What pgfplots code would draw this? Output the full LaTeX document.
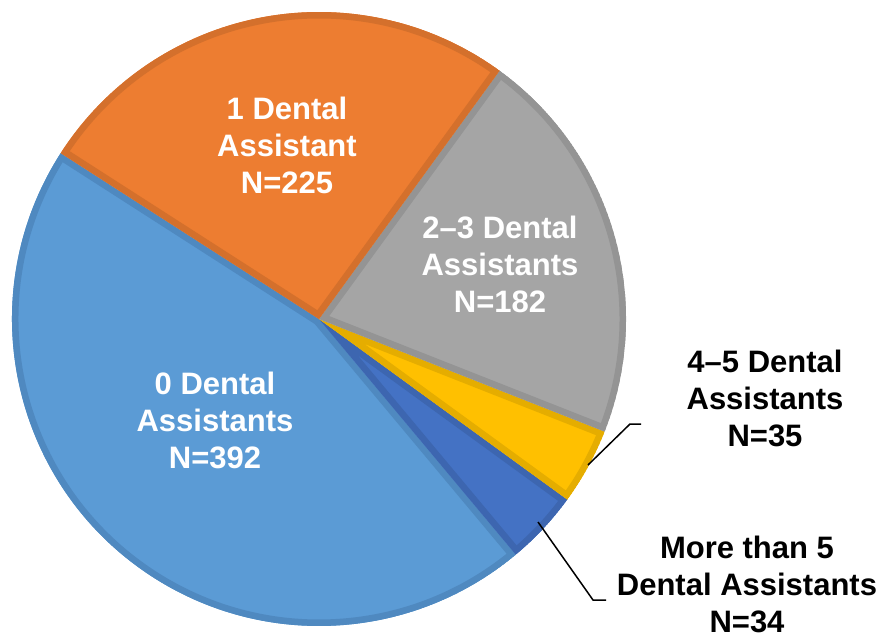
\documentclass[border=0pt]{standalone}
\usepackage{pgfplots}
\pgfplotsset{compat=1.18}
\usepackage{pgfplotstable}
\usepackage{fontspec}
\setmainfont{Liberation Sans}
\definecolor{cBlue}{HTML}{5B9BD5}\definecolor{bBlue}{HTML}{4F89C0}
\definecolor{cOrange}{HTML}{ED7D31}\definecolor{bOrange}{HTML}{D4702C}
\definecolor{cGray}{HTML}{A5A5A5}\definecolor{bGray}{HTML}{949494}
\definecolor{cYellow}{HTML}{FFC000}\definecolor{bYellow}{HTML}{E5AD00}
\definecolor{cDBlue}{HTML}{4472C4}\definecolor{bDBlue}{HTML}{3D66B0}
\pgfplotstableread{
group value
zero 392
morefive 34
fourfive 35
twothree 182
one 225
}\piedata
\newcommand\sector[4]{%
  \begin{scope}
    \clip (axis cs:319,319) -- ++(#1:307pt) arc[start angle=#1,end angle=#2,radius=307pt] -- cycle;
    \fill[#3] (axis cs:319,319) -- ++(#1:307pt) arc[start angle=#1,end angle=#2,radius=307pt] -- cycle;
    \draw[#4,line width=13pt,line join=miter] (axis cs:319,319) -- ++(#1:307pt) arc[start angle=#1,end angle=#2,radius=307pt] -- cycle;
  \end{scope}}
\begin{document}%
\begin{tikzpicture}
\pgfplotstablegetelem{0}{value}\of\piedata\let\vA\pgfplotsretval
\pgfplotstablegetelem{1}{value}\of\piedata\let\vB\pgfplotsretval
\pgfplotstablegetelem{2}{value}\of\piedata\let\vC\pgfplotsretval
\pgfplotstablegetelem{3}{value}\of\piedata\let\vD\pgfplotsretval
\pgfplotstablegetelem{4}{value}\of\piedata\let\vE\pgfplotsretval
\pgfmathsetmacro\tot{\vA+\vB+\vC+\vD+\vE}
\pgfmathsetmacro\aA{147.3}
\pgfmathsetmacro\aB{\aA+360*(\vA/\tot)}
\pgfmathsetmacro\aC{\aB+360*(\vB/\tot)}
\pgfmathsetmacro\aD{\aC+360*(\vC/\tot)}
\pgfmathsetmacro\aE{\aD+360*(\vD/\tot)}
\pgfmathsetmacro\aF{\aE+360*(\vE/\tot)}
\begin{axis}[
  width=888pt, height=637pt, scale only axis,
  xmin=0, xmax=888, ymin=0, ymax=637, y dir=reverse,
  hide axis, clip=false]
\coordinate (BL) at (axis cs:0,637);
\coordinate (TR) at (axis cs:888,0);
\sector{\aA}{\aB}{cBlue}{bBlue}
\sector{\aB}{\aC}{cDBlue}{bDBlue}
\sector{\aC}{\aD}{cYellow}{bYellow}
\sector{\aD}{\aE}{cGray}{bGray}
\sector{\aE}{\aF}{cOrange}{bOrange}
\draw[black,line width=1.5pt] (axis cs:588,465) -- (axis cs:630,424) -- (axis cs:641,424);
\draw[black,line width=1.5pt] (axis cs:538,522) -- (axis cs:593,600) -- (axis cs:606,600);
\tikzset{lab/.style={align=center,font=\bfseries\fontsize{31}{37}\selectfont,inner sep=0pt}}
\node[lab,text=white] at (axis cs:287,145) {1 Dental\\Assistant\\N=225};
\node[lab,text=white] at (axis cs:500,264) {2–3 Dental\\Assistants\\N=182};
\node[lab,text=white] at (axis cs:215,420) {0 Dental\\Assistants\\N=392};
\node[lab,text=black] at (axis cs:765,398) {4–5 Dental\\Assistants\\N=35};
\node[lab,text=black] at (axis cs:747,584) {More than 5\\Dental Assistants\\N=34};
\end{axis}
\pgfresetboundingbox
\path[use as bounding box] (BL) rectangle (TR);
\end{tikzpicture}%
\end{document}
